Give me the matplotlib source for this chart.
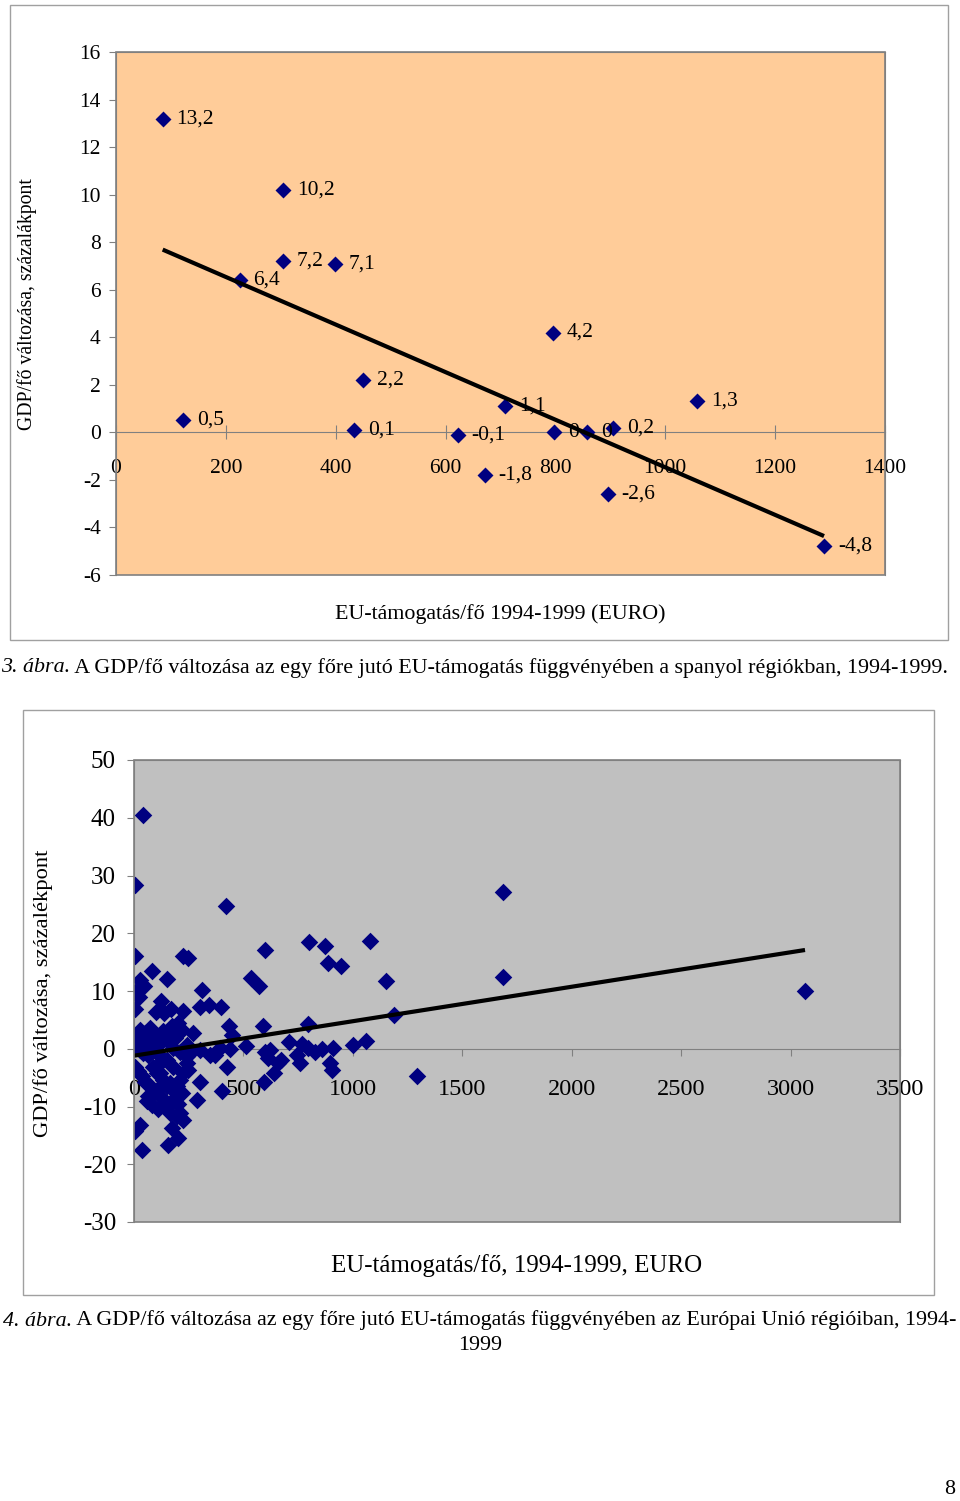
import numpy as np
import matplotlib
matplotlib.use("Agg")
import matplotlib.pyplot as plt
from matplotlib.patches import Rectangle

plt.rcParams['font.family'] = ['Liberation Serif', 'DejaVu Serif']
plt.rcParams['axes.unicode_minus'] = False

# 3. abra: spanyol regiok
spain_eu = [85, 122, 225, 304, 304, 398, 449, 433, 622, 671, 709, 795, 798, 858, 905, 895, 1058, 1289]
spain_gdp = [13.2, 0.5, 6.4, 10.2, 7.2, 7.1, 2.2, 0.1, -0.1, -1.8, 1.1, 4.2, 0, 0, 0.2, -2.6, 1.3, -4.8]

# 4. abra: EU regiok
eu_x = [40, 5, 420, 1687, 1684, 3066, 1080, 801, 872, 888, 944, 598, 534, 571, 1150, 1188, 1291,
        588, 796, 510, 710, 766, 796, 827, 857, 910, 1001, 1058, 747, 758, 895, 903, 598, 621,
        613, 670, 659, 640, 595, 423, 434, 449, 396, 343, 309, 393, 439, 370, 301, 400, 301,
        4, 225, 245, 81, 153, 27, 46, 4, 24, 122, 4, 301, 100, 139, 167, 225,
        202, 172, 5, 27, 50, 73, 88, 111, 134, 164, 187, 218, 271, 27, 50, 5, 81, 119, 149,
        241, 347, 27, 73, 119, 42, 65, 210, 241, 256, 15, 95, 180,
        5, 20, 35, 50, 73, 88, 58, 81, 104, 119, 134, 149, 164, 180, 195, 210, 225, 241,
        218, 180, 149, 164, 195, 210, 225, 172, 202, 157, 27, 5, 35, 286, 88, 119, 149, 180,
        104, 248, 65, 130, 110, 200]
eu_y = [40.5, 28.4, 24.8, 27.1, 12.5, 10.0, 18.6, 18.4, 17.8, 14.9, 14.3, 17.1, 12.2, 10.8, 11.8, 5.9, -4.8,
        3.9, 4.3, 0.4, 1.1, 0.9, 0.1, -0.6, 0.0, 0.1, 0.6, 1.3, -1.0, -2.4, -2.5, -3.6, -0.6, -0.2,
        -1.6, -1.9, -2.5, -4.2, -5.8, -3.1, 4.0, 2.3, 7.2, 7.5, 10.2, 0.1, 0.0, -1.0, -0.2, -7.4, -5.7,
        16.0, 16.1, 15.8, 13.4, 12.1, 11.9, 10.8, 9.9, 8.9, 8.3, 6.8, 7.2, 6.3, 6.2, 6.9, 6.5,
        4.4, 3.9, 2.1, 3.3, 2.7, 3.6, 2.7, 2.1, 3.0, 2.4, 1.8, 3.3, 2.7, 1.6, 1.6, 1.3, 1.6, 1.0, 1.6,
        0.7, -1.0, -0.2, 0.1, -1.3, -0.7, -1.0, -0.5, -1.3, -0.7, 0.5, -0.3, 0.2,
        -3.1, -3.9, -4.8, -5.7, -6.5, -7.7, -9.1, -9.7, -7.1, -4.2, -5.4, -6.5, -5.9, -7.1, -6.5, -5.4, -4.2, -2.5,
        -7.7, -8.8, -10.0, -11.1, -11.7, -11.1, -12.3, -13.7, -15.5, -16.6, -13.2, -14.3, -17.5, -8.8, -3.1, -2.5, -1.9, -3.1,
        -4.2, -3.6, -8.2, -8.5, -10.5, -9.5]
eu_trend_x = [0, 3066]
eu_trend_y = [-1.2, 17.1]

navy = '#000080'
grey = '#808080'

fig = plt.figure(figsize=(9.6, 15.01), dpi=100)

# page layer in pixel coordinates: frames, captions
bg = fig.add_axes([0, 0, 1, 1])
bg.set_xlim(0, 960)
bg.set_ylim(1501, 0)
bg.axis('off')
bg.add_patch(Rectangle((10, 5), 938, 635, fill=False, edgecolor='#a0a0a0', lw=1))
bg.add_patch(Rectangle((23, 710), 911, 585, fill=False, edgecolor='#a0a0a0', lw=1))

cap_size = 15.8
t1 = bg.text(1, 668, "3. ábra.", style='italic', fontsize=cap_size, va='center', ha='left')
bg.annotate(" A GDP/fő változása az egy főre jutó EU-támogatás függvényében a spanyol régiókban, 1994-1999.",
            xy=(1, 0), xycoords=t1, va='bottom', ha='left', fontsize=cap_size)
t2 = bg.text(3, 1321, "4. ábra.", style='italic', fontsize=cap_size, va='center', ha='left')
bg.annotate(" A GDP/fő változása az egy főre jutó EU-támogatás függvényében az Európai Unió régióiban, 1994-",
            xy=(1, 0), xycoords=t2, va='bottom', ha='left', fontsize=cap_size)
bg.text(480, 1346, "1999", fontsize=cap_size, va='center', ha='center')
bg.text(950, 1490, "8", fontsize=cap_size, va='center', ha='center')

# ---- top chart
ax1 = fig.add_axes([116 / 960, 1 - 575 / 1501, 769 / 960, 523 / 1501])
ax1.set_facecolor('#FFCC99')
ax1.scatter(spain_eu, spain_gdp, marker='D', s=66, color=navy, zorder=3, linewidths=0)
coef = np.polyfit(spain_eu, spain_gdp, 1)
xs = np.array([min(spain_eu), max(spain_eu)])
ax1.plot(xs, np.polyval(coef, xs), color='black', lw=3, zorder=4, solid_capstyle='butt')
for x, y in zip(spain_eu, spain_gdp):
    ax1.annotate(f"{y:g}".replace('.', ','), (x, y), xytext=(10, 0), textcoords='offset points',
                 va='center', ha='left', fontsize=15.5, zorder=5)
ax1.set_xlim(0, 1400)
ax1.set_ylim(-6, 16)
ax1.set_xticks(range(0, 1401, 200))
ax1.set_yticks(range(-6, 17, 2))
for side in ['left', 'right', 'top', 'bottom']:
    ax1.spines[side].set_color(grey)
ax1.spines['bottom'].set_position(('data', 0))
ax1.add_patch(Rectangle((0, 0), 1, 1, transform=ax1.transAxes, fill=False, edgecolor=grey, lw=1.2,
                        clip_on=False, zorder=6))
ax1.tick_params(axis='x', direction='inout', length=10, color=grey, pad=14, labelsize=15.5)
ax1.tick_params(axis='y', direction='out', length=5, color=grey, pad=6, labelsize=15.5)
fig.text(500 / 960, 1 - 614 / 1501, "EU-támogatás/fő 1994-1999 (EURO)", ha='center', va='center', fontsize=15.8)
fig.text(27 / 960, 1 - 304 / 1501, "GDP/fő változása, százalákpont", rotation=90, ha='center', va='center',
         fontsize=14.2)

# ---- bottom chart
ax2 = fig.add_axes([134 / 960, 1 - 1222 / 1501, 766 / 960, 462 / 1501])
ax2.set_facecolor('#C0C0C0')
ax2.scatter(eu_x, eu_y, marker='D', s=80, color=navy, zorder=3, linewidths=0)
ax2.plot(eu_trend_x, eu_trend_y, color='black', lw=3, zorder=4, solid_capstyle='butt')
ax2.set_xlim(0, 3500)
ax2.set_ylim(-30, 50)
ax2.set_xticks(range(0, 3501, 500))
ax2.set_yticks(range(-30, 51, 10))
for side in ['left', 'right', 'top', 'bottom']:
    ax2.spines[side].set_color(grey)
ax2.spines['bottom'].set_position(('data', 0))
ax2.add_patch(Rectangle((0, 0), 1, 1, transform=ax2.transAxes, fill=False, edgecolor=grey, lw=1.2,
                        clip_on=False, zorder=6))
ax2.tick_params(axis='x', direction='out', length=5, color=grey, pad=17, labelsize=17.5)
ax2.tick_params(axis='y', direction='out', length=5, color=grey, pad=8, labelsize=18)
fig.text(517 / 960, 1 - 1266 / 1501, "EU-támogatás/fő, 1994-1999, EURO", ha='center', va='center', fontsize=18)
fig.text(43 / 960, 1 - 993 / 1501, "GDP/fő változása, százalékpont", rotation=90, ha='center', va='center',
         fontsize=16.2)

fig.savefig('out.png', dpi=100)
